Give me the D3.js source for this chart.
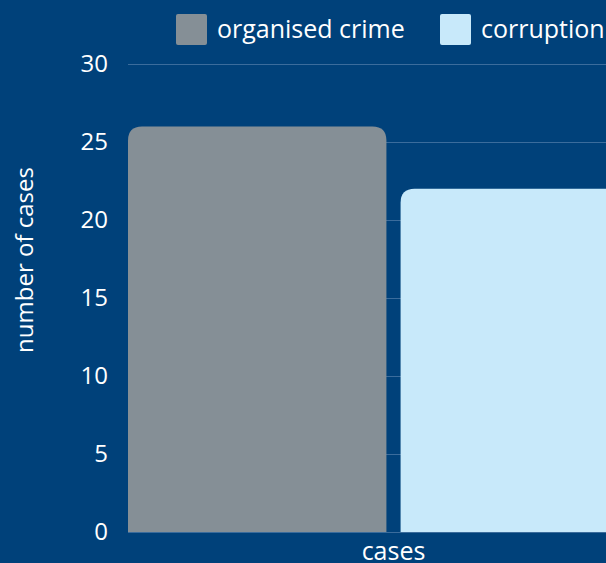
<!DOCTYPE html>
<meta charset="utf-8">
<style>
body { margin: 0; background: #00417a; overflow: hidden; }
svg { display: block; font-family: 'Open Sans', sans-serif; }
text { fill: #ffffff; }
.grid line { stroke: #3b6c9c; stroke-width: 1px; shape-rendering: crispEdges; }
.grid path { stroke: none; }
.axis path, .axis line { stroke: none; }
.axis text { font-size: 24px; font-family: 'Open Sans', sans-serif; }
</style>
<body>
<svg width="606" height="563"></svg>
<script src="https://d3js.org/d3.v7.min.js"></script>
<script>
var categories = ["cases"];
var series = ["organised crime", "corruption"];
var values = [26, 22];          // one value per series, for "cases"
var colors = ["#858f96", "#c8e9fa"];
var yTicks = [0, 5, 10, 15, 20, 25, 30];

var svg = d3.select("svg"),
    margin = {top: 64, left: 128, bottom: 31},
    plotRight = 659,
    height = +svg.attr("height") - margin.bottom;

var x0 = d3.scaleBand().domain(categories).range([margin.left, plotRight]);
var x1 = d3.scaleBand().domain(series).range([0, x0.bandwidth()]).paddingInner(0.052);
var y = d3.scaleLinear().domain([0, 30]).range([height, margin.top]);

// gridlines
svg.append("g")
    .attr("class", "grid")
    .attr("transform", "translate(" + margin.left + ",0)")
    .call(d3.axisLeft(y).tickValues(yTicks).tickSize(-(plotRight - margin.left)).tickFormat(""));

// y axis labels
svg.append("g")
    .attr("class", "axis")
    .attr("transform", "translate(" + (margin.left - 12) + ",0)")
    .call(d3.axisLeft(y).tickValues(yTicks).tickSize(0).tickPadding(8));

// rounded-top bars
var r = 14;
function barPath(x, yTop, w, yBot) {
  return "M" + x + "," + yBot +
    "V" + (yTop + r) +
    "Q" + x + "," + yTop + " " + (x + r) + "," + yTop +
    "H" + (x + w - r) +
    "Q" + (x + w) + "," + yTop + " " + (x + w) + "," + (yTop + r) +
    "V" + yBot + "Z";
}

svg.append("g").selectAll("path")
    .data(series.map(function(s, i) { return {s: s, v: values[i], c: colors[i]}; }))
  .enter().append("path")
    .attr("fill", function(d) { return d.c; })
    .attr("d", function(d) {
      return barPath(x0("cases") + x1(d.s), y(d.v), x1.bandwidth(), y(0));
    });

// x category label
svg.append("text")
    .attr("x", x0("cases") + x0.bandwidth() / 2)
    .attr("y", height + 28)
    .attr("text-anchor", "middle")
    .style("font-size", "25px")
    .text(categories[0]);

// y title
svg.append("text")
    .attr("transform", "translate(33," + ((y(0) + y(30)) / 2 - 38) + ") rotate(-90)")
    .attr("text-anchor", "middle")
    .style("font-size", "24px")
    .text("number of cases");

// legend
var legendX = [176, 440];
var legend = svg.append("g").selectAll("g")
    .data(series)
  .enter().append("g")
    .attr("transform", function(d, i) { return "translate(" + legendX[i] + ",14)"; });
legend.append("rect")
    .attr("width", 31).attr("height", 31).attr("rx", 2)
    .attr("fill", function(d, i) { return colors[i]; });
legend.append("text")
    .attr("x", 41).attr("y", 24)
    .style("font-size", "25px")
    .text(function(d) { return d; });
</script>
